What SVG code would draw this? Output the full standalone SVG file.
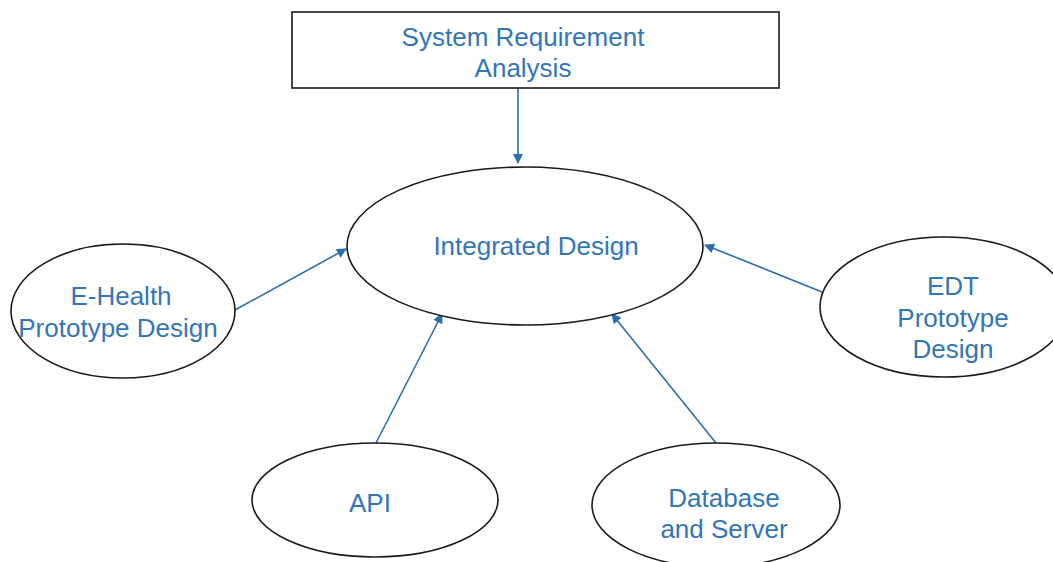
<svg xmlns="http://www.w3.org/2000/svg" width="1053" height="562" viewBox="0 0 1053 562">
  <style>
    .shape { fill: #ffffff; stroke: #1a1a1a; stroke-width: 1.6; }
    .label { font-family: "Liberation Sans", Arial, sans-serif; font-size: 26px; fill: #3276b8; text-anchor: middle; }
    .link { stroke: #2a6fa8; stroke-width: 1.6; fill: none; marker-end: url(#arrow); }
  </style>
  <defs>
    <marker id="arrow" viewBox="0 0 10 10" refX="9" refY="5" markerWidth="11" markerHeight="10" markerUnits="userSpaceOnUse" orient="auto">
      <path d="M0,0 L10,5 L0,10 z" fill="#2a6fa8"/>
    </marker>
  </defs>
  <rect width="1053" height="562" fill="#ffffff"/>

  <g id="connectors">
    <line class="link" x1="518" y1="88" x2="518" y2="163"/>
    <line class="link" x1="235" y1="310" x2="346" y2="249"/>
    <line class="link" x1="822" y1="292" x2="705" y2="245"/>
    <line class="link" x1="376" y1="443" x2="442" y2="314"/>
    <line class="link" x1="716" y1="443" x2="612" y2="314"/>
  </g>

  <g id="system-requirement-analysis">
    <rect class="shape" x="292" y="12" width="487" height="76"/>
    <text class="label" x="523" y="46">System Requirement</text>
    <text class="label" x="523" y="77">Analysis</text>
  </g>

  <g id="integrated-design">
    <ellipse class="shape" cx="525" cy="246" rx="178" ry="79"/>
    <text class="label" x="536" y="255">Integrated Design</text>
  </g>

  <g id="e-health-prototype-design">
    <ellipse class="shape" cx="123" cy="311" rx="112" ry="67"/>
    <text class="label" x="121" y="305">E-Health</text>
    <text class="label" x="118" y="337">Prototype Design</text>
  </g>

  <g id="edt-prototype-design">
    <ellipse class="shape" cx="944" cy="307" rx="124" ry="70"/>
    <text class="label" x="953" y="295">EDT</text>
    <text class="label" x="953" y="327">Prototype</text>
    <text class="label" x="953" y="358">Design</text>
  </g>

  <g id="api">
    <ellipse class="shape" cx="375" cy="500" rx="123" ry="57"/>
    <text class="label" x="370" y="512">API</text>
  </g>

  <g id="database-and-server">
    <ellipse class="shape" cx="716" cy="505" rx="124" ry="62"/>
    <text class="label" x="724" y="507">Database</text>
    <text class="label" x="724" y="538">and Server</text>
  </g>
</svg>
